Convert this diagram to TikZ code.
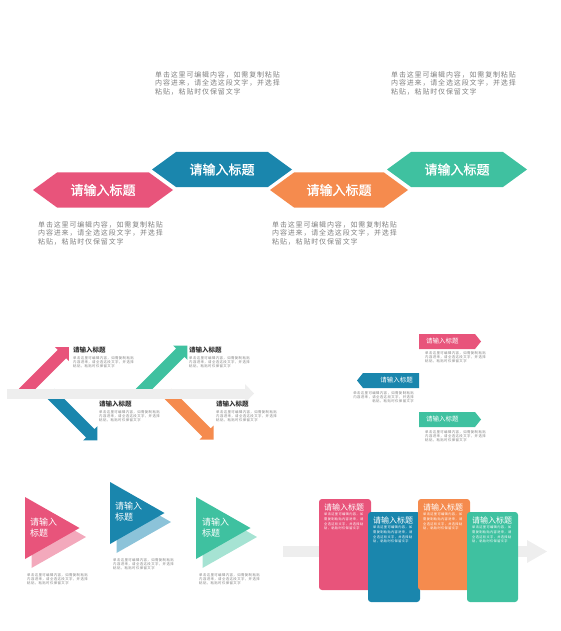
\documentclass[tikz,border=0pt]{standalone}
\usepackage{fontspec}
\newfontfamily\cjk{Noto Sans CJK SC}
\newfontfamily\cjkfb[FakeBold=1.2]{Noto Sans CJK SC}
\newfontfamily\cjksp[LetterSpace=12]{Noto Sans CJK SC}
\definecolor{cpink}{HTML}{E8547B}
\definecolor{cblue}{HTML}{1A86AD}
\definecolor{corange}{HTML}{F58B4E}
\definecolor{cteal}{HTML}{3FC1A0}
\definecolor{lpink}{HTML}{F3A9BC}
\definecolor{lblue}{HTML}{8CC3D9}
\definecolor{lteal}{HTML}{A6E3D3}
\definecolor{bandgray}{HTML}{EEEEEE}
\definecolor{txtgray}{HTML}{808080}
\definecolor{darktxt}{HTML}{333333}
\newcommand\hexshape[4]{\fill[#1] (#2,#4) -- ({#2+24},{#4-17.5}) -- ({#3-24},{#4-17.5}) -- (#3,#4) -- ({#3-24},{#4+17.5}) -- ({#2+24},{#4+17.5}) -- cycle;}
\newcommand\diagarrow[5]{\begin{scope}[shift={(#2,#3)},rotate=#4]\fill[#1] (0,-6) -- ({#5-10},-6) -- ({#5-10},-10) -- (#5,0) -- ({#5-10},10) -- ({#5-10},6) -- (0,6) -- cycle;\end{scope}}
\newcommand\tritwo[4]{\fill[#2] ({#3+6.5},{#4+9}) -- ({#3+6.5},{#4+71}) -- ({#3+61},{#4+40}) -- cycle;
\fill[#1] (#3,#4) -- (#3,{#4+62}) -- ({#3+54.5},{#4+31}) -- cycle;}
\begin{document}
\begin{tikzpicture}[x=1pt,y=-1pt,
  para/.style={text=txtgray, inner sep=0pt, anchor=north west, align=left, font=\cjksp\fontsize{7}{8.5}\selectfont},
  tiny/.style={text=txtgray, inner sep=0pt, anchor=north west, align=left, font=\cjksp\fontsize{3.4}{4.4}\selectfont},
  tinyw/.style={text=white, inner sep=0pt, anchor=north west, align=left, font=\cjksp\fontsize{3.2}{4.6}\selectfont},
  hextitle/.style={text=white, inner sep=0pt, font=\cjkfb\fontsize{13}{15}\selectfont},
  fishtitle/.style={text=darktxt, inner sep=0pt, anchor=west, font=\cjk\bfseries\fontsize{6.5}{8}\selectfont},
  tagtitle/.style={text=white, inner sep=0pt, font=\cjk\fontsize{6.5}{8}\selectfont},
  trititle/.style={text=white, inner sep=0pt, anchor=west, align=left, font=\cjk\fontsize{9}{11}\selectfont},
  cardtitle/.style={text=white, inner sep=0pt, anchor=west, font=\cjk\fontsize{8}{10}\selectfont}]
\useasboundingbox (0,0) rectangle (560,631);

% ---------- top: hexagon chain ----------
\hexshape{cpink}{33}{173}{190}
\hexshape{cblue}{152}{292}{169.5}
\hexshape{corange}{270}{408}{190}
\hexshape{cteal}{387}{527}{169.5}
\node[hextitle] (h1) at (103,190) {请输入标题};
\node[hextitle] (h2) at (222,169.5) {请输入标题};
\node[hextitle] (h3) at (339,190) {请输入标题};
\node[hextitle] (h4) at (457,169.5) {请输入标题};
\node[para] (p2) at (155,71) {单击这里可编辑内容，如需复制粘贴\\内容进来，请全选这段文字，并选择\\粘贴，粘贴时仅保留文字};
\node[para] (p4) at (391,71) {单击这里可编辑内容，如需复制粘贴\\内容进来，请全选这段文字，并选择\\粘贴，粘贴时仅保留文字};
\node[para] (p1) at (38,221) {单击这里可编辑内容，如需复制粘贴\\内容进来，请全选这段文字，并选择\\粘贴，粘贴时仅保留文字};
\node[para] (p3) at (272,221) {单击这里可编辑内容，如需复制粘贴\\内容进来，请全选这段文字，并选择\\粘贴，粘贴时仅保留文字};

% ---------- middle left: fishbone ----------
\diagarrow{cpink}{23}{393}{45}{65}
\diagarrow{cblue}{50}{393}{-45}{67}
\diagarrow{cteal}{140}{393}{45}{67}
\diagarrow{corange}{167}{393}{-45}{66}
\fill[bandgray] (7,388.5) rectangle (245,398.5);
\fill[bandgray] (245,384) -- (254,393.5) -- (245,403) -- cycle;
\node[fishtitle] (f1) at (73,350) {请输入标题};
\node[tiny] (f1t) at (73,356) {单击这里可编辑内容，如需复制粘贴\\内容进来，请全选这段文字，并选择\\粘贴，粘贴时仅保留文字};
\node[fishtitle] (f2) at (99,404) {请输入标题};
\node[tiny] (f2t) at (99,410) {单击这里可编辑内容，如需复制粘贴\\内容进来，请全选这段文字，并选择\\粘贴，粘贴时仅保留文字};
\node[fishtitle] (f3) at (189,350) {请输入标题};
\node[tiny] (f3t) at (189,356) {单击这里可编辑内容，如需复制粘贴\\内容进来，请全选这段文字，并选择\\粘贴，粘贴时仅保留文字};
\node[fishtitle] (f4) at (216,404) {请输入标题};
\node[tiny] (f4t) at (216,410) {单击这里可编辑内容，如需复制粘贴\\内容进来，请全选这段文字，并选择\\粘贴，粘贴时仅保留文字};

% ---------- middle right: tags ----------
\fill[cpink] (419,334) -- (475,334) -- (481,341.5) -- (475,349) -- (419,349) -- cycle;
\fill[cblue] (357,380.5) -- (363,373) -- (419,373) -- (419,388) -- (363,388) -- cycle;
\fill[cteal] (419,412) -- (475,412) -- (481,419.5) -- (475,427) -- (419,427) -- cycle;
\node[tagtitle, anchor=west] (t1) at (426,341.5) {请输入标题};
\node[tagtitle, anchor=east] (t2) at (413,380.5) {请输入标题};
\node[tagtitle, anchor=west] (t3) at (426,419.5) {请输入标题};
\node[tiny] (t1t) at (425,351) {单击这里可编辑内容，如需复制粘贴\\内容进来，请全选这段文字，并选择\\粘贴，粘贴时仅保留文字};
\node[tiny, anchor=north east, align=right] (t2t) at (414,391) {单击这里可编辑内容，如需复制粘贴\\内容进来，请全选这段文字，并选择\\粘贴，粘贴时仅保留文字};
\node[tiny] (t3t) at (425,430) {单击这里可编辑内容，如需复制粘贴\\内容进来，请全选这段文字，并选择\\粘贴，粘贴时仅保留文字};

% ---------- bottom left: triangles ----------
\tritwo{cpink}{lpink}{25}{497}
\tritwo{cblue}{lblue}{110}{482}
\tritwo{cteal}{lteal}{196}{497}
\node[trititle] (r1) at (30,528) {请输入\\标题};
\node[trititle] (r2) at (115,512) {请输入\\标题};
\node[trititle] (r3) at (202,528) {请输入\\标题};
\node[tiny] (r1t) at (27,573) {单击这里可编辑内容，如需复制粘贴\\内容进来，请全选这段文字，并选择\\粘贴，粘贴时仅保留文字};
\node[tiny] (r2t) at (113,558) {单击这里可编辑内容，如需复制粘贴\\内容进来，请全选这段文字，并选择\\粘贴，粘贴时仅保留文字};
\node[tiny] (r3t) at (199,573) {单击这里可编辑内容，如需复制粘贴\\内容进来，请全选这段文字，并选择\\粘贴，粘贴时仅保留文字};

% ---------- bottom right: cards ----------
\fill[bandgray] (283,546) rectangle (527,557);
\fill[bandgray] (527,540) -- (547,551.5) -- (527,563) -- cycle;
\fill[cpink, rounded corners=3pt] (319,499) rectangle (371,590);
\fill[cblue, rounded corners=3pt] (368,512) rectangle (420,602);
\fill[corange, rounded corners=3pt] (418,499) rectangle (470,590);
\fill[cteal, rounded corners=3pt] (467,512) rectangle (518,602);
\node[cardtitle] (c1) at (324,507) {请输入标题};
\node[cardtitle] (c2) at (373,520) {请输入标题};
\node[cardtitle] (c3) at (423,507) {请输入标题};
\node[cardtitle] (c4) at (472,520) {请输入标题};
\node[tinyw] (c1t) at (324,513) {单击这里可编辑内容，如\\需复制粘贴内容进来，请\\全选这段文字，并选择粘\\贴，粘贴时仅保留文字};
\node[tinyw] (c2t) at (373,526) {单击这里可编辑内容，如\\需复制粘贴内容进来，请\\全选这段文字，并选择粘\\贴，粘贴时仅保留文字};
\node[tinyw] (c3t) at (423,513) {单击这里可编辑内容，如\\需复制粘贴内容进来，请\\全选这段文字，并选择粘\\贴，粘贴时仅保留文字};
\node[tinyw] (c4t) at (472,526) {单击这里可编辑内容，如\\需复制粘贴内容进来，请\\全选这段文字，并选择粘\\贴，粘贴时仅保留文字};
\end{tikzpicture}
\end{document}
